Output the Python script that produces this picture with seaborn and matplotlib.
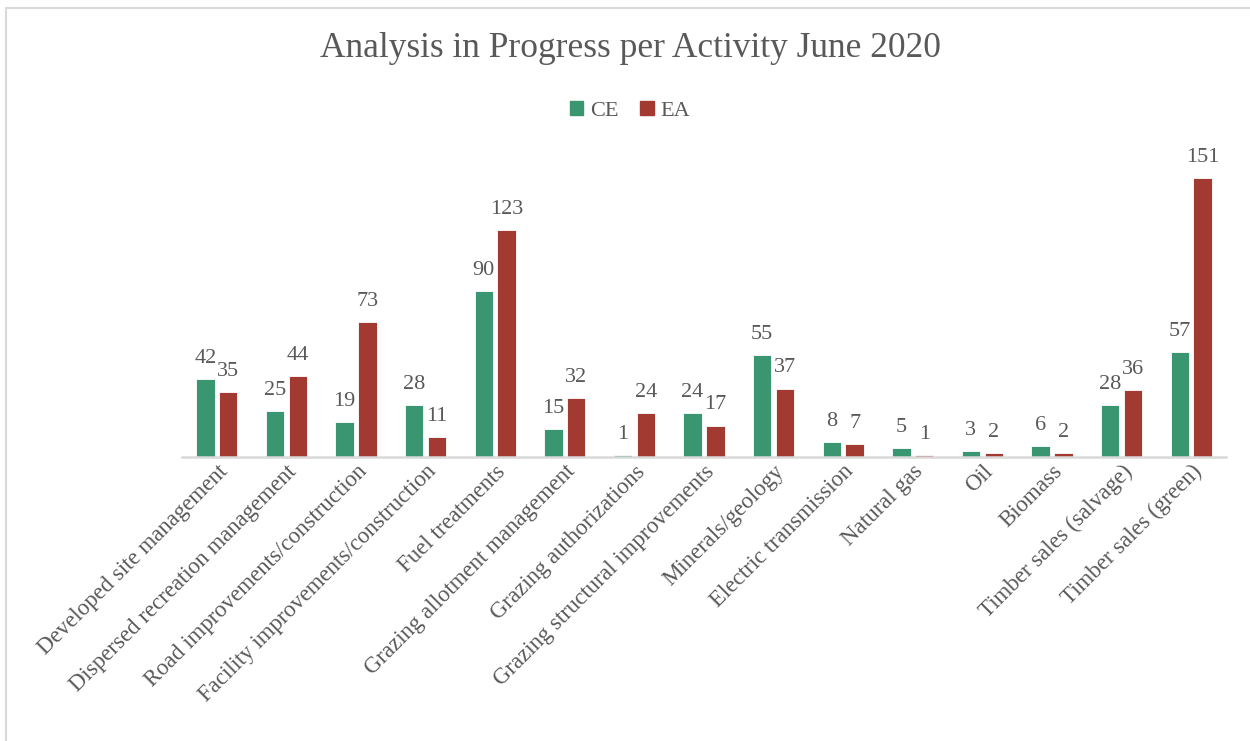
import matplotlib
matplotlib.use("Agg")
import matplotlib.pyplot as plt
import numpy as np
import pandas as pd
import seaborn as sns

activities = [
    "Developed site management",
    "Dispersed recreation management",
    "Road improvements/construction",
    "Facility improvements/construction",
    "Fuel treatments",
    "Grazing allotment management",
    "Grazing authorizations",
    "Grazing structural improvements",
    "Minerals/geology",
    "Electric transmission",
    "Natural gas",
    "Oil",
    "Biomass",
    "Timber sales (salvage)",
    "Timber sales (green)",
]
ce_counts = [42, 25, 19, 28, 90, 15, 1, 24, 55, 8, 5, 3, 6, 28, 57]
ea_counts = [35, 44, 73, 11, 123, 32, 24, 17, 37, 7, 1, 2, 2, 36, 151]
series = ["CE", "EA"]
colors = {"CE": "#3A9670", "EA": "#A23A32"}

df = pd.DataFrame({"activity": activities, "CE": ce_counts, "EA": ea_counts})
df = df.melt(id_vars="activity", value_vars=series, var_name="type", value_name="count")

sns.set_style("white")
plt.rcParams["font.family"] = ["Liberation Serif", "DejaVu Serif"]
text_color = "#595959"

fig = plt.figure(figsize=(12.5, 7.41), dpi=100)
ax = fig.add_axes([0.1456, 0.3833, 0.8352, 0.399])

sns.barplot(
    data=df,
    x="activity",
    y="count",
    hue="type",
    hue_order=series,
    order=activities,
    palette=colors,
    saturation=1,
    width=0.66,
    gap=0.2,
    edgecolor="white",
    linewidth=0.6,
    legend=False,
    ax=ax,
)

for cont in ax.containers:
    ax.bar_label(cont, padding=8, fontsize=16, color=text_color)

ax.set_ylim(0, 160)
ax.set_xlim(-0.5, len(activities) - 0.5)
ax.set_xlabel("")
ax.set_ylabel("")
ax.set_yticks([])
for side in ["top", "right", "left"]:
    ax.spines[side].set_visible(False)
ax.spines["bottom"].set_color("#D9D9D9")
ax.spines["bottom"].set_linewidth(1.8)
ax.tick_params(axis="x", length=0, pad=3)
plt.setp(
    ax.get_xticklabels(),
    rotation=45,
    ha="right",
    rotation_mode="anchor",
    fontsize=16.5,
    color=text_color,
)

fig.text(0.504, 0.935, "Analysis in Progress per Activity June 2020",
         ha="center", va="center", fontsize=25.5, color=text_color)

handles = [plt.Rectangle((0, 0), 1, 1, color=colors[s]) for s in series]
fig.legend(
    handles, series, loc="center", bbox_to_anchor=(0.504, 0.85), ncol=2,
    frameon=False, fontsize=16, handlelength=0.6, handleheight=0.6,
    handletextpad=0.3, columnspacing=1.0, labelcolor=text_color,
)

# chart border
fig.add_artist(plt.Line2D([0.005, 0.005], [0, 0.989], color="#D9D9D9", lw=1.5))
fig.add_artist(plt.Line2D([0.005, 1.0], [0.989, 0.989], color="#D9D9D9", lw=1.5))

fig.savefig("out.png", dpi=100)
